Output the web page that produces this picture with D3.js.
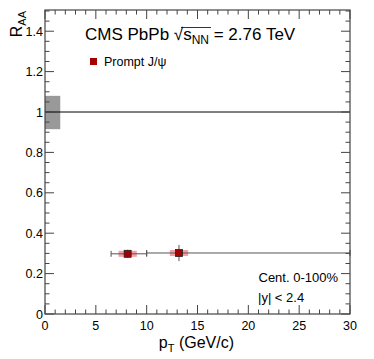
<!DOCTYPE html>
<html>
<head>
<meta charset="utf-8">
<script src="https://cdn.jsdelivr.net/npm/d3@7"></script>
<style>
  body { margin: 0; background: #fff; }
  text { font-family: "Liberation Sans", Arial, sans-serif; }
</style>
</head>
<body>
<script>
// data
var ptCenter = [8.13, 13.18];
var ptLow = [6.5, 10];
var ptHigh = [10, 30];
var raa = [0.298, 0.302];
var statErr = [0.02, 0.04];
var systErr = [0.015, 0.015];
var systHalfWidth = [0.9, 0.9];
var globalUnc = [0.915, 1.08];
var xTicks = [0, 5, 10, 15, 20, 25, 30];
var yTicks = [0, 0.2, 0.4, 0.6, 0.8, 1, 1.2, 1.4];

var W = 374, H = 359;
var pLeft = 45, pRight = 350, pTop = 10, pBottom = 314;

var x = d3.scaleLinear().domain([0, 30]).range([pLeft, pRight]);
var y = d3.scaleLinear().domain([0, 1.505]).range([pBottom, pTop]);

var svg = d3.select("body").append("svg")
  .attr("width", W).attr("height", H);

// global uncertainty box
svg.append("rect")
  .attr("x", x(0)).attr("width", x(1.5) - x(0))
  .attr("y", y(globalUnc[1])).attr("height", y(globalUnc[0]) - y(globalUnc[1]))
  .attr("fill", "#999");

// unity line
svg.append("line")
  .attr("x1", x(0)).attr("x2", x(30))
  .attr("y1", y(1)).attr("y2", y(1))
  .attr("stroke", "#000").attr("stroke-width", 1);

// systematic boxes
svg.selectAll(".syst").data(ptCenter).enter().append("rect")
  .attr("x", function(d, i) { return x(d - systHalfWidth[i]); })
  .attr("width", function(d, i) { return x(d + systHalfWidth[i]) - x(d - systHalfWidth[i]); })
  .attr("y", function(d, i) { return y(raa[i] + systErr[i]); })
  .attr("height", function(d, i) { return y(raa[i] - systErr[i]) - y(raa[i] + systErr[i]); })
  .attr("fill", "#f4a0a8");

// horizontal bars
svg.selectAll(".hbar").data(ptCenter).enter().append("line")
  .attr("x1", function(d, i) { return x(ptLow[i]); })
  .attr("x2", function(d, i) { return x(ptHigh[i]); })
  .attr("y1", function(d, i) { return y(raa[i]); })
  .attr("y2", function(d, i) { return y(raa[i]); })
  .attr("stroke", "#555").attr("stroke-width", 1);
// bin edge caps
svg.selectAll(".cap").data(ptCenter.concat(ptCenter)).enter().append("line")
  .attr("x1", function(d, i) { return x(i < 2 ? ptLow[i] : ptHigh[i - 2]); })
  .attr("x2", function(d, i) { return x(i < 2 ? ptLow[i] : ptHigh[i - 2]); })
  .attr("y1", function(d, i) { return y(raa[i % 2]) - 3; })
  .attr("y2", function(d, i) { return y(raa[i % 2]) + 3; })
  .attr("stroke", "#555").attr("stroke-width", 1);

// vertical stat bars
svg.selectAll(".vbar").data(ptCenter).enter().append("line")
  .attr("x1", function(d) { return x(d); })
  .attr("x2", function(d) { return x(d); })
  .attr("y1", function(d, i) { return y(raa[i] + statErr[i]); })
  .attr("y2", function(d, i) { return y(raa[i] - statErr[i]); })
  .attr("stroke", "#555").attr("stroke-width", 1);

// markers
svg.selectAll(".pt").data(ptCenter).enter().append("rect")
  .attr("x", function(d) { return x(d) - 3.5; })
  .attr("y", function(d, i) { return y(raa[i]) - 3.5; })
  .attr("width", 7).attr("height", 7)
  .attr("fill", "#a50000").attr("stroke", "#222").attr("stroke-width", 0.8);

// frame
svg.append("rect")
  .attr("x", pLeft).attr("y", pTop)
  .attr("width", pRight - pLeft).attr("height", pBottom - pTop)
  .attr("fill", "none").attr("stroke", "#444").attr("stroke-width", 1.2);

var tickColor = "#444";
// x ticks (inside, bottom and top)
var xMinor = d3.range(0, 30.01, 1);
xMinor.forEach(function(v) {
  var major = v % 5 === 0;
  var len = major ? 9 : 4.5;
  svg.append("line").attr("x1", x(v)).attr("x2", x(v))
    .attr("y1", pBottom).attr("y2", pBottom - len).attr("stroke", tickColor);
  svg.append("line").attr("x1", x(v)).attr("x2", x(v))
    .attr("y1", pTop).attr("y2", pTop + len).attr("stroke", tickColor);
});
var yMinor = d3.range(0, 1.501, 0.05);
yMinor.forEach(function(v, i) {
  var major = i % 4 === 0;
  var len = major ? 9 : 4.5;
  svg.append("line").attr("y1", y(v)).attr("y2", y(v))
    .attr("x1", pLeft).attr("x2", pLeft + len).attr("stroke", tickColor);
  svg.append("line").attr("y1", y(v)).attr("y2", y(v))
    .attr("x1", pRight).attr("x2", pRight - len).attr("stroke", tickColor);
});

// tick labels
svg.selectAll(".xl").data(xTicks).enter().append("text")
  .attr("x", function(d) { return x(d); })
  .attr("y", 330)
  .attr("text-anchor", "middle")
  .attr("font-size", 12.5)
  .text(function(d) { return d; });
svg.selectAll(".yl").data(yTicks).enter().append("text")
  .attr("x", pLeft - 2)
  .attr("y", function(d) { return y(d) + 4.5; })
  .attr("text-anchor", "end")
  .attr("font-size", 12.5)
  .text(function(d) { return d === 0 ? "0" : d3.format("")(d); });

// axis titles
var xt = svg.append("text").attr("x", 234).attr("y", 348)
  .attr("text-anchor", "end").attr("font-size", 16);
xt.append("tspan").text("p");
xt.append("tspan").attr("font-size", 11).attr("dy", 4).text("T");
xt.append("tspan").attr("dy", -4).text(" (GeV/c)");

var yt = svg.append("text")
  .attr("transform", "translate(22," + 11 + ") rotate(-90)")
  .attr("text-anchor", "end").attr("font-size", 16);
yt.append("tspan").text("R");
yt.append("tspan").attr("font-size", 11).attr("dy", 4).text("AA");

// header text
var ht = svg.append("text").attr("x", 85).attr("y", 40).attr("font-size", 17);
ht.append("tspan").text("CMS PbPb ");
ht.append("tspan").text("\u221A");
ht.append("tspan").text("s");
ht.append("tspan").attr("font-size", 12).attr("dy", 4).text("NN");
ht.append("tspan").attr("dy", -4).text(" = 2.76 TeV");
// overline of the root sign
svg.append("line").attr("x1", 181).attr("x2", 211).attr("y1", 27.5).attr("y2", 27.5)
  .attr("stroke", "#000").attr("stroke-width", 0.8);

// legend
svg.append("rect").attr("x", 90).attr("y", 58).attr("width", 7).attr("height", 7)
  .attr("fill", "#a50000");
svg.append("text").attr("x", 104).attr("y", 66).attr("font-size", 12.5).text("Prompt J/\u03C8");

svg.append("text").attr("x", 338).attr("y", 282).attr("text-anchor", "end")
  .attr("font-size", 13).text("Cent. 0-100%");
svg.append("text").attr("x", 258).attr("y", 302)
  .attr("font-size", 13).text("|y| < 2.4");
</script>
</body>
</html>
